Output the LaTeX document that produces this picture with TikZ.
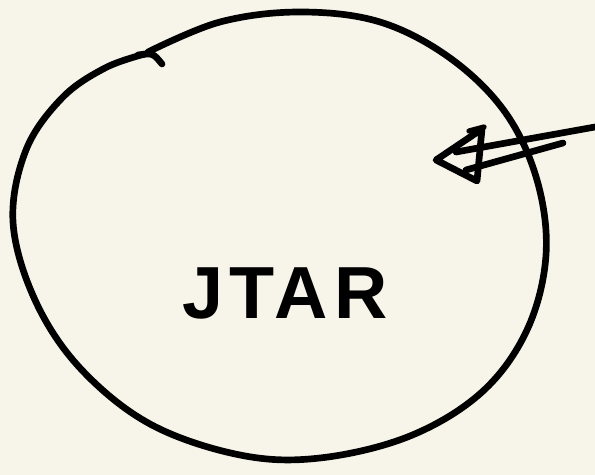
\documentclass[tikz,border=0pt]{standalone}
\usepackage{fontspec}
\setsansfont{Liberation Sans}
\definecolor{paper}{HTML}{F7F5EA}
\begin{document}
\begin{tikzpicture}[x=0.02cm, y=-0.02cm, line cap=round, line join=round, every node/.style={font=\sffamily}]
	% Nền giấy
	\fill[paper] (0,0) rectangle (595,475);
	\useasboundingbox (0,0) rectangle (595,475);
	% Định nghĩa các điểm
	\path
	(595,127) coordinate (U1)
	(456,152) coordinate (U2)
	(563,143) coordinate (L1)
	(466,170) coordinate (L2)
	(436,160) coordinate (T)
	(482,129) coordinate (T1)
	(477,181) coordinate (T2)
	;
	% Vòng tròn vẽ tay
	\draw[line width=3.8pt] plot[smooth, tension=0.6] coordinates {(148,52) (220,22) (300,12) (380,22) (450,58) (505,112) (537,180) (546,255) (527,330) (482,392) (410,436) (320,458) (240,455) (150,424) (80,368) (35,300) (13,222) (26,150) (62,98) (105,68) (145,54)};
	\draw[line width=3.8pt] (138,55) .. controls (153,53) .. (162,64);
	% Mũi tên
	\draw[line width=3.8pt] (U1) -- (U2);
	\draw[line width=3.8pt] (L1) -- (L2);
	\draw[line width=3.8pt] (T1) -- (T) -- (T2) .. controls (479,160) .. (T1);
	\draw[line width=3pt] (469,131) -- (484,127);
	% Chữ
	\node (star) at (285,293) {\fontsize{42}{42}\selectfont\bfseries\addfontfeature{LetterSpace=8}JTAR};
\end{tikzpicture}
\end{document}
